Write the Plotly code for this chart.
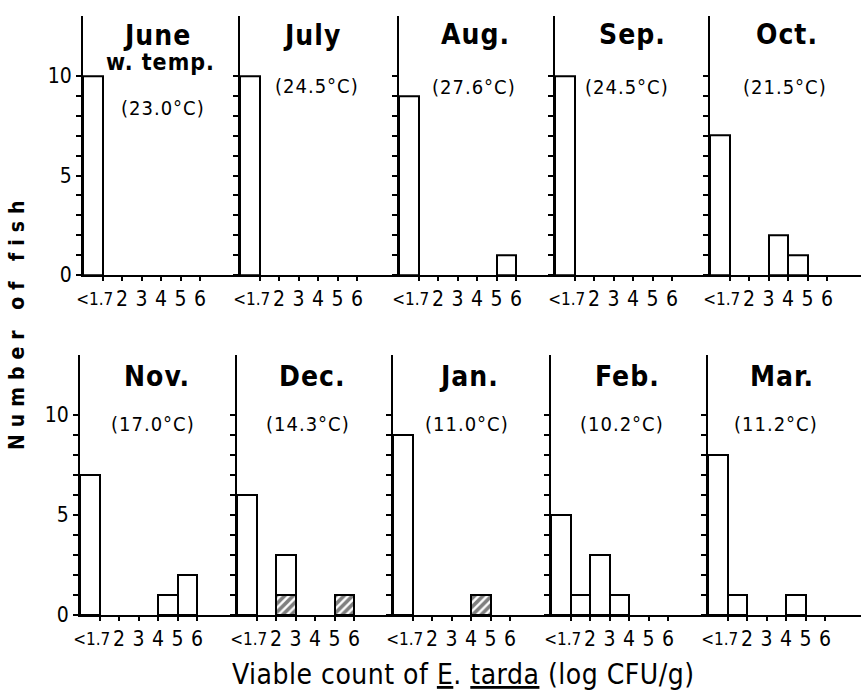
import plotly.graph_objects as go

# ---------------- data ----------------
months = ["June", "July", "Aug.", "Sep.", "Oct.", "Nov.", "Dec.", "Jan.", "Feb.", "Mar."]
temps = ["(23.0°C)", "(24.5°C)", "(27.6°C)", "(24.5°C)", "(21.5°C)",
         "(17.0°C)", "(14.3°C)", "(11.0°C)", "(10.2°C)", "(11.2°C)"]
bins = ["<1.7", "1.7-2", "2-3", "3-4", "4-5", "5-6"]
x_tick_values = [1, 2, 3, 4, 5, 6]
x_tick_labels = ["", "2", "3", "4", "5", "6"]
first_bin_label = "&lt;1.7"
y_tick_values = [0, 1, 2, 3, 4, 5, 6, 7, 8, 9, 10]
y_tick_labels = ["0", "", "", "", "", "5", "", "", "", "", "10"]

june = [10, 0, 0, 0, 0, 0]
july = [10, 0, 0, 0, 0, 0]
aug = [9, 0, 0, 0, 0, 1]
sep = [10, 0, 0, 0, 0, 0]
oct_ = [7, 0, 0, 2, 1, 0]
nov = [7, 0, 0, 0, 1, 2]
dec = [6, 0, 3, 0, 0, 1]
jan = [9, 0, 0, 0, 1, 0]
feb = [5, 1, 3, 1, 0, 0]
mar = [8, 1, 0, 0, 1, 0]

dec_hatched = [0, 0, 1, 0, 0, 1]
jan_hatched = [0, 0, 0, 0, 1, 0]
no_hatched = [0, 0, 0, 0, 0, 0]

counts = [june, july, aug, sep, oct_, nov, dec, jan, feb, mar]
hatched = [no_hatched] * 6 + [dec_hatched, jan_hatched] + [no_hatched] * 2

# ---------------- layout geometry (pixels) ----------------
W, H = 861, 697
FONT = "DejaVu Sans, sans-serif"
axis_x = [[83, 240, 399, 555, 710], [80, 237, 393, 551, 708]]
base_y = [275, 615]
px_x = 19.5
px_y = [19.9, 20.0]
YMAX = 13
FIRST_LABEL_POS = 0.6   # "<1.7" sits slightly left of the first tick

title_pos = [(157, 36), (312, 36), (475, 34), (632, 34), (787, 34),
             (157, 376), (312, 376), (469, 376), (627, 376), (782, 376)]
temp_pos = [(163, 108), (317, 86), (474, 87), (627, 87), (785, 87),
            (153, 424), (308, 424), (467, 424), (622, 424), (776, 424)]


def cond(text, spacing=0):
    return (f'<span style="font-stretch:condensed;letter-spacing:{spacing}px">'
            f'{text}</span>')


def fx(p):
    return p / W


def fy(p):
    return 1 - p / H


fig = go.Figure()
layout = dict(
    width=W, height=H, margin=dict(l=0, r=0, t=0, b=0, pad=0, autoexpand=False),
    paper_bgcolor="white", plot_bgcolor="white",
    showlegend=False, barmode="overlay", bargap=0,
    font=dict(family=FONT, color="black"),
)
annotations = []

centers = [i + 0.5 for i in range(len(bins))]

for k in range(10):
    r, c = divmod(k, 5)
    x0 = axis_x[r][c]
    x1 = axis_x[r][c + 1] - 1 if c < 4 else W
    y0 = base_y[r]
    y1 = y0 - YMAX * px_y[r]
    xa = "x" if k == 0 else f"x{k+1}"
    ya = "y" if k == 0 else f"y{k+1}"
    xo = f"x{k+11}"
    vals = [v if v else None for v in counts[k]]
    hv = [v if v else None for v in hatched[k]]
    fig.add_trace(go.Bar(
        x=centers, y=vals, width=1, xaxis=xa, yaxis=ya,
        marker=dict(color="white", line=dict(color="black", width=2)),
        hoverinfo="skip"))
    if any(hv):
        fig.add_trace(go.Bar(
            x=centers, y=hv, width=1, xaxis=xa, yaxis=ya,
            marker=dict(color="white", line=dict(color="black", width=2),
                        pattern=dict(shape="/", fgcolor="black", bgcolor="white",
                                     size=6, solidity=0.6)),
            hoverinfo="skip"))
    # empty trace so the overlay axis carrying the "<1.7" label is drawn
    fig.add_trace(go.Scatter(x=[], y=[], xaxis=xo, yaxis=ya, hoverinfo="skip"))

    xrange_ = [0, (x1 - x0) / px_x]
    xname = "xaxis" if k == 0 else f"xaxis{k+1}"
    yname = "yaxis" if k == 0 else f"yaxis{k+1}"
    layout[xname] = dict(
        domain=[fx(x0), fx(x1)], range=xrange_, anchor=ya,
        automargin=False,
        showline=True, linecolor="black", linewidth=2,
        showgrid=False, zeroline=False,
        tickmode="array", tickvals=x_tick_values,
        ticktext=[cond(t) for t in x_tick_labels], tickangle=0,
        ticks="outside", ticklen=4, tickwidth=1.5, tickcolor="black",
        tickfont=dict(family=FONT, size=21, color="black"),
        fixedrange=True,
    )
    layout[f"xaxis{k+11}"] = dict(
        overlaying=xa, anchor=ya, range=xrange_, automargin=False,
        showline=False, showgrid=False, zeroline=False,
        tickmode="array", tickvals=[FIRST_LABEL_POS],
        ticktext=[cond(first_bin_label)], tickangle=0,
        ticks="outside", ticklen=4, tickcolor="rgba(0,0,0,0)",
        ticklabelstandoff=5,
        tickfont=dict(family=FONT, size=17, color="black"),
        fixedrange=True,
    )
    layout[yname] = dict(
        domain=[fy(y0), fy(y1)], range=[0, YMAX], anchor=xa,
        automargin=False,
        showline=True, linecolor="black", linewidth=2,
        showgrid=False, zeroline=False,
        tickmode="array", tickvals=y_tick_values,
        ticktext=[cond(t) for t in y_tick_labels] if c == 0 else [""] * len(y_tick_values),
        ticks="outside", ticklen=5, tickwidth=1.5, tickcolor="black",
        tickfont=dict(family=FONT, size=21, color="black"),
        fixedrange=True,
    )
    tx, ty = title_pos[k]
    annotations.append(dict(
        x=fx(tx), y=fy(ty), xref="paper", yref="paper", showarrow=False,
        xanchor="center", yanchor="middle",
        text=cond(months[k], 1),
        font=dict(family=FONT, size=28, color="black", weight="bold")))
    px_, py_ = temp_pos[k]
    annotations.append(dict(
        x=fx(px_), y=fy(py_), xref="paper", yref="paper", showarrow=False,
        xanchor="center", yanchor="middle",
        text=cond(temps[k], 1),
        font=dict(family=FONT, size=20, color="black")))

annotations.append(dict(
    x=fx(160), y=fy(62), xref="paper", yref="paper", showarrow=False,
    xanchor="center", yanchor="middle",
    text=cond("w. temp.", 1),
    font=dict(family=FONT, size=23, color="black", weight="bold")))

annotations.append(dict(
    x=fx(463), y=fy(674), xref="paper", yref="paper", showarrow=False,
    xanchor="center", yanchor="middle",
    text=cond("Viable count of <u>E</u>. <u>tarda</u> (log CFU/g)", 0.5),
    font=dict(family=FONT, size=28, color="black")))

annotations.append(dict(
    x=fx(17), y=fy(322), xref="paper", yref="paper", showarrow=False,
    xanchor="center", yanchor="middle", textangle=-90,
    text=cond("Number of fish", 7),
    font=dict(family=FONT, size=21, color="black", weight="bold")))

layout["annotations"] = annotations
fig.update_layout(**layout)
fig.write_html("out.html")
